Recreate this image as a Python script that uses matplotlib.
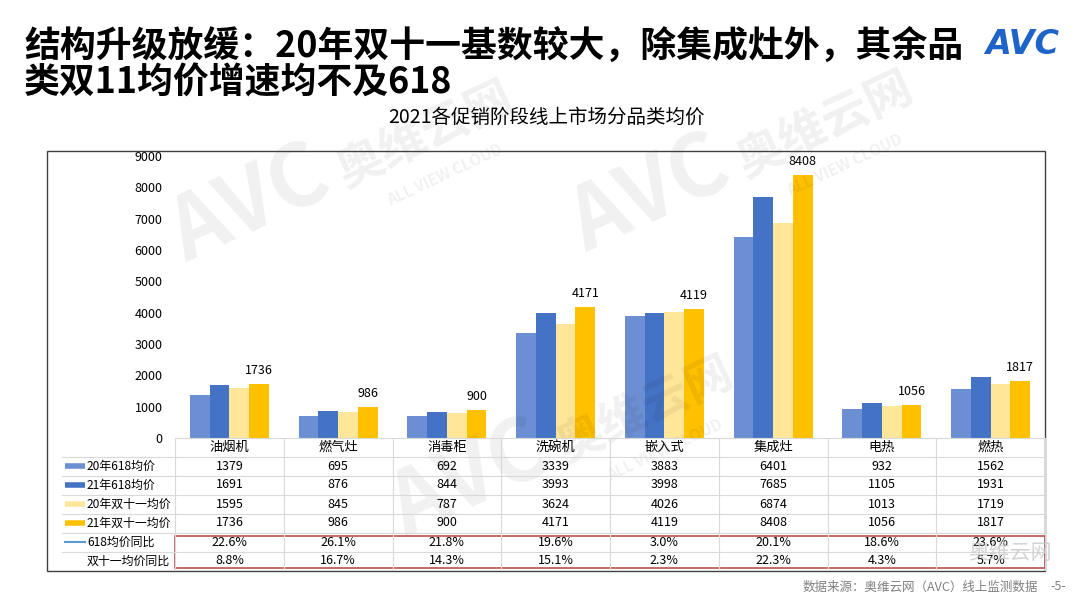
import matplotlib
matplotlib.use("Agg")
import matplotlib.pyplot as plt
from matplotlib.transforms import blended_transform_factory
from matplotlib.patches import Rectangle
from matplotlib.lines import Line2D

plt.rcParams['font.family'] = ['Noto Sans CJK SC', 'DejaVu Sans']

# data
categories = ['油烟机', '燃气灶', '消毒柜', '洗碗机', '嵌入式', '集成灶', '电热', '燃热']
price_618_20 = [1379, 695, 692, 3339, 3883, 6401, 932, 1562]
price_618_21 = [1691, 876, 844, 3993, 3998, 7685, 1105, 1931]
price_1111_20 = [1595, 845, 787, 3624, 4026, 6874, 1013, 1719]
price_1111_21 = [1736, 986, 900, 4171, 4119, 8408, 1056, 1817]
yoy_618 = ['22.6%', '26.1%', '21.8%', '19.6%', '3.0%', '20.1%', '18.6%', '23.6%']
yoy_1111 = ['8.8%', '16.7%', '14.3%', '15.1%', '2.3%', '22.3%', '4.3%', '5.7%']

series_names = ['20年618均价', '21年618均价', '20年双十一均价', '21年双十一均价']
series_colors = ['#6C8FD3', '#4472C4', '#FFE699', '#FFC000']
line_name = '618均价同比'
line_color = '#5B9BD5'
last_row_name = '双十一均价同比'

W, H = 1080, 608


def fx(px):
    return px / W


def fy(py):
    return 1 - py / H


fig = plt.figure(figsize=(W / 100, H / 100), dpi=100)
fig.patch.set_facecolor('white')

# faint watermarks
wm = dict(color='#000000', alpha=0.06, rotation=25, ha='center', va='center', zorder=0)
for cx, cy in [(250, 205), (650, 195), (470, 480)]:
    fig.text(fx(cx), fy(cy), 'AVC', fontsize=62, weight='bold', style='italic', **wm)
    fig.text(fx(cx + 175), fy(cy - 70), '奥维云网', fontsize=34, weight='bold', **wm)
    fig.text(fx(cx + 195), fy(cy - 30), 'ALL VIEW CLOUD', fontsize=11, weight='bold', **wm)

# titles
fig.text(fx(24), fy(46), '结构升级放缓：20年双十一基数较大，除集成灶外，其余品',
         fontsize=25.8, weight='bold', va='center', ha='left')
fig.text(fx(24), fy(83), '类双11均价增速均不及618',
         fontsize=25.8, weight='bold', va='center', ha='left')
fig.text(fx(1022), fy(45), 'AVC', fontsize=24, weight='bold', style='italic',
         color='#1E64C8', ha='center', va='center', family='DejaVu Sans')
fig.text(fx(546), fy(117), '2021各促销阶段线上市场分品类均价', fontsize=14,
         ha='center', va='center')

# bars
ax = fig.add_axes([fx(175), fy(438), (1045 - 175) / W, (438 - 156) / H])
ax.set_facecolor('none')
n = len(categories)
x = list(range(n))
bw = 0.182
all_series = [price_618_20, price_618_21, price_1111_20, price_1111_21]
for i, (vals, name, col) in enumerate(zip(all_series, series_names, series_colors)):
    xs = [xi + (i - 1.5) * bw for xi in x]
    bars = ax.bar(xs, vals, width=bw, color=col, label=name, zorder=2)
    if i == 3:
        for b, v in zip(bars, vals):
            ax.annotate(str(v), (b.get_x() + b.get_width() / 2, v),
                        xytext=(0, 5), textcoords='offset points',
                        ha='center', va='bottom', fontsize=9)

ax.set_xlim(-0.5, n - 0.5)
ax.set_ylim(0, 9000)
ax.set_yticks(range(0, 9001, 1000))
ax.tick_params(axis='y', length=0, labelsize=9, pad=9)
ax.set_xticks([])
for s in ax.spines.values():
    s.set_visible(False)

# data table under the chart
tr = blended_transform_factory(ax.transData, fig.transFigure)
grid_col = '#D9D9D9'
row_h = 19
header_y = 447
row_top = 437.5

for k in range(n + 1):
    fig.add_artist(Line2D([k - 0.5, k - 0.5], [fy(row_top), fy(570)],
                          transform=tr, color=grid_col, lw=0.8))
fig.add_artist(Line2D([fx(175), fx(1045)], [fy(row_top), fy(row_top)],
                      color=grid_col, lw=0.8))
for r in range(1, 7):
    yy = row_top + r * row_h
    fig.add_artist(Line2D([fx(62), fx(1045)], [fy(yy), fy(yy)],
                          color=grid_col, lw=0.8))

for xi, cat in zip(x, categories):
    fig.text(xi, fy(header_y), cat, transform=tr, ha='center', va='center', fontsize=9.5)

rows = [[str(v) for v in s] for s in all_series] + [yoy_618, yoy_1111]
row_names = series_names + [line_name, last_row_name]
for r, (vals, name) in enumerate(zip(rows, row_names)):
    yc = header_y + (r + 1) * row_h
    for xi, v in zip(x, vals):
        fig.text(xi, fy(yc), v, transform=tr, ha='center', va='center', fontsize=9)
    fig.text(fx(87), fy(yc), name, ha='left', va='center', fontsize=8.6)
    if r < 4:
        fig.add_artist(Line2D([fx(65), fx(85)], [fy(yc), fy(yc)],
                              color=series_colors[r], lw=4, solid_capstyle='butt'))
    elif r == 4:
        fig.add_artist(Line2D([fx(65), fx(85)], [fy(yc), fy(yc)],
                              color=line_color, lw=1.5))

# red highlight box around the growth rows
fig.add_artist(Rectangle((fx(175), fy(568)), (1045 - 175) / W, (568 - 536) / H,
                         fill=False, edgecolor='#C0504D', lw=1.2))

# outer chart frame
fig.add_artist(Rectangle((fx(47), fy(571)), (1045 - 47) / W, (571 - 151) / H,
                         fill=False, edgecolor='#404040', lw=1))

# wechat mark and footer
fig.text(fx(1010), fy(553), '奥维云网', fontsize=15, color='#C8C8C8', ha='center',
         va='center', alpha=0.8)
fig.text(fx(1038), fy(587), '数据来源：奥维云网（AVC）线上监测数据', fontsize=9,
         color='#7F7F7F', ha='right', va='center')
fig.text(fx(1058), fy(587), '-5-', fontsize=9, color='#7F7F7F', ha='center', va='center')

fig.savefig('out.png', dpi=100)
